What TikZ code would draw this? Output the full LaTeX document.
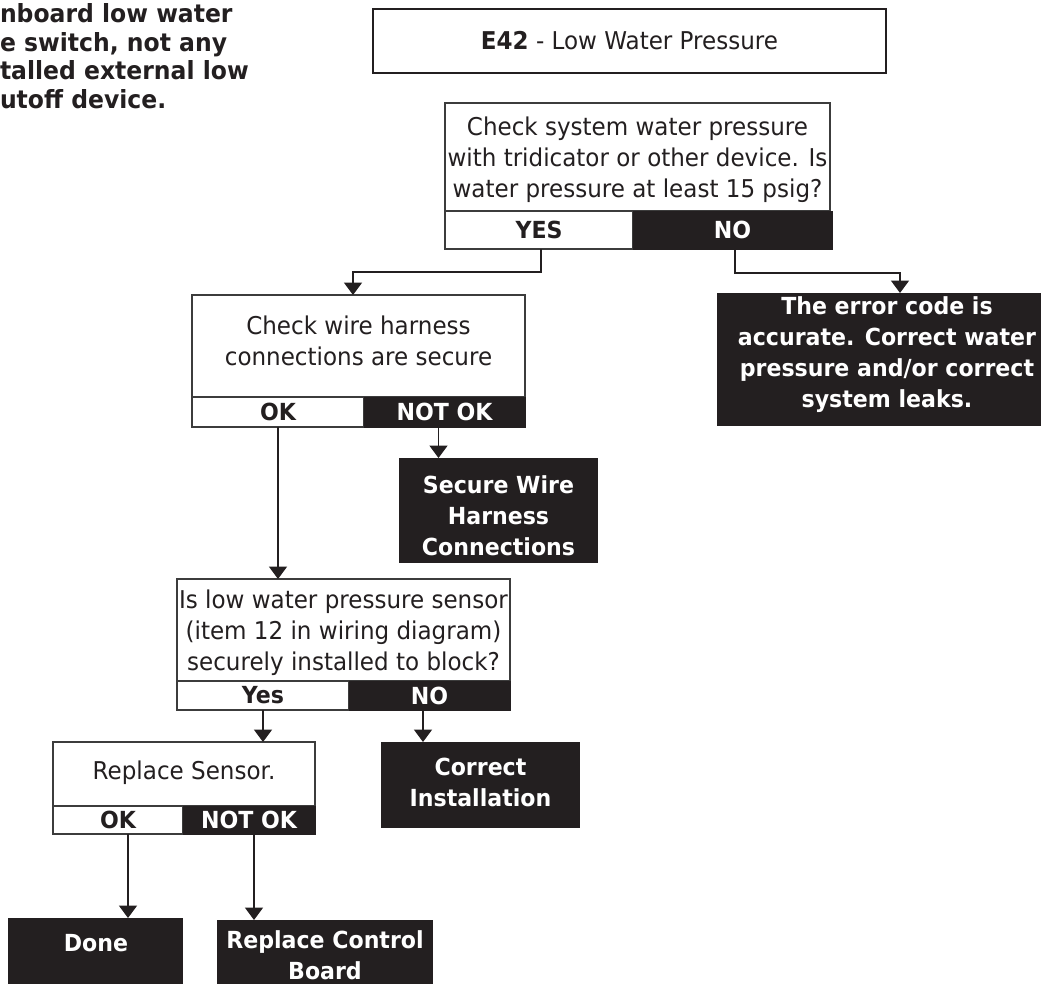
\documentclass[tikz,border=0pt]{standalone}
\usepackage{fontspec}
\setmainfont{DejaVu Sans}[FakeStretch=0.94]
\usetikzlibrary{arrows.meta}
\definecolor{ink}{RGB}{35,31,32}
\definecolor{edge}{RGB}{60,60,60}
\begin{document}
\begin{tikzpicture}[x=1pt,y=-1pt,
  every node/.style={inner sep=0pt, outer sep=0pt, text=ink},
  reg/.style={font=\fontsize{24.5}{31}\selectfont, align=center},
  bld/.style={font=\fontsize{23.5}{31}\selectfont\bfseries, align=center},
  wbox/.style={draw=edge, line width=1.3pt, fill=white},
  wcell/.style={draw=edge, line width=1.3pt, fill=white, font=\fontsize{23.5}{28}\selectfont\bfseries},
  kcell/.style={draw=ink, line width=1pt, fill=ink, text=white, font=\fontsize{23.5}{28}\selectfont\bfseries},
  kbox/.style={fill=ink},
  ktext/.style={bld, text=white},
  arr/.style={draw=ink, line width=1.8pt, -{Triangle[width=18pt,length=12.5pt]}}
]
\useasboundingbox (0,0) rectangle (1041,983);
\clip (0,0) rectangle (1041,983);

% side note (clipped at the left edge)
\node[anchor=north west, align=left, font=\fontsize{25}{28.4}\selectfont\bfseries] (note) at (0,4)
  {nboard low water\\e switch, not any\\talled external low\\utoff device.};

% title
\node[draw=ink, line width=2.7pt, fill=white, minimum width=513pt, minimum height=64pt, reg] (title)
  at (629.5,41) {\textbf{E42} - Low Water Pressure};

% question 1
\node[wbox, minimum width=385pt, minimum height=108pt] (q1) at (637.5,157) {};
\node[reg] (q1t) at (637.5,159.5) {Check system water pressure\\with tridicator or other device. Is\\water pressure at least 15 psig?};
\node[wcell, minimum width=188pt, minimum height=38pt] (q1y) at (539,230) {YES};
\node[kcell, minimum width=199pt, minimum height=38pt] (q1n) at (732.5,230) {NO};

% answer: error code accurate
\node[kbox, minimum width=340pt, minimum height=133pt] (a1) at (887,359.5) {};
\node[ktext] (a1t) at (887,355) {The error code is\\accurate. Correct water\\pressure and/or correct\\system leaks.};

% question 2
\node[wbox, minimum width=333pt, minimum height=102pt] (q2) at (358.5,346) {};
\node[reg] (q2t) at (358.5,341) {Check wire harness\\connections are secure};
\node[wcell, minimum width=172pt, minimum height=30pt] (q2o) at (278,412) {OK};
\node[kcell, minimum width=161pt, minimum height=30pt] (q2n) at (444.5,412) {NOT OK};

% answer: secure wire harness
\node[kbox, minimum width=199pt, minimum height=105pt] (a2) at (498.5,510.5) {};
\node[ktext] (a2t) at (498.5,516) {Secure Wire\\Harness\\Connections};

% question 3
\node[wbox, minimum width=333pt, minimum height=102pt] (q3) at (343.5,630) {};
\node[reg] (q3t) at (343.5,633) {Is low water pressure sensor\\(item 12 in wiring diagram)\\securely installed to block?};
\node[wcell, minimum width=172pt, minimum height=29pt] (q3y) at (263,695.5) {Yes};
\node[kcell, minimum width=161pt, minimum height=29pt] (q3n) at (429.5,695.5) {NO};

% answer: correct installation
\node[kbox, minimum width=199pt, minimum height=86pt] (a3) at (480.5,785) {};
\node[ktext] (a3t) at (480.5,782.5) {Correct\\Installation};

% step 4
\node[wbox, minimum width=262pt, minimum height=64pt] (q4) at (184,774) {};
\node[reg] (q4t) at (184,773) {Replace Sensor.};
\node[wcell, minimum width=130pt, minimum height=28pt] (q4o) at (118,820) {OK};
\node[kcell, minimum width=132pt, minimum height=28pt] (q4n) at (249,820) {NOT OK};

% final answers
\node[kbox, minimum width=175pt, minimum height=92pt] (a4) at (95.5,964) {};
\node[ktext] (a4t) at (96,943) {Done};
\node[kbox, minimum width=216pt, minimum height=90pt] (a5) at (325,965) {};
\node[ktext] (a5t) at (325,955) {Replace Control\\Board};

% connectors
\draw[arr] ([xshift=2pt]q1y.south) -- ++(0,23) -| ([xshift=-5.5pt]q2.north);
\draw[arr] ([xshift=2.5pt]q1n.south) -- ++(0,24) -| ([xshift=13pt]a1.north);
\draw[arr] ([xshift=-6pt]q2n.south) -- ([xshift=-60pt]a2.north);
\draw[arr] (q2o.south) -- ([xshift=-65.5pt]q3.north);
\draw[arr] (q3y.south) -- ([xshift=79pt]q4.north);
\draw[arr] ([xshift=-6.5pt]q3n.south) -- ([xshift=-57.5pt]a3.north);
\draw[arr] ([xshift=10pt]q4o.south) -- ([xshift=32.5pt]a4.north);
\draw[arr] ([xshift=5pt]q4n.south) -- ([xshift=-71pt]a5.north);
\end{tikzpicture}
\end{document}
